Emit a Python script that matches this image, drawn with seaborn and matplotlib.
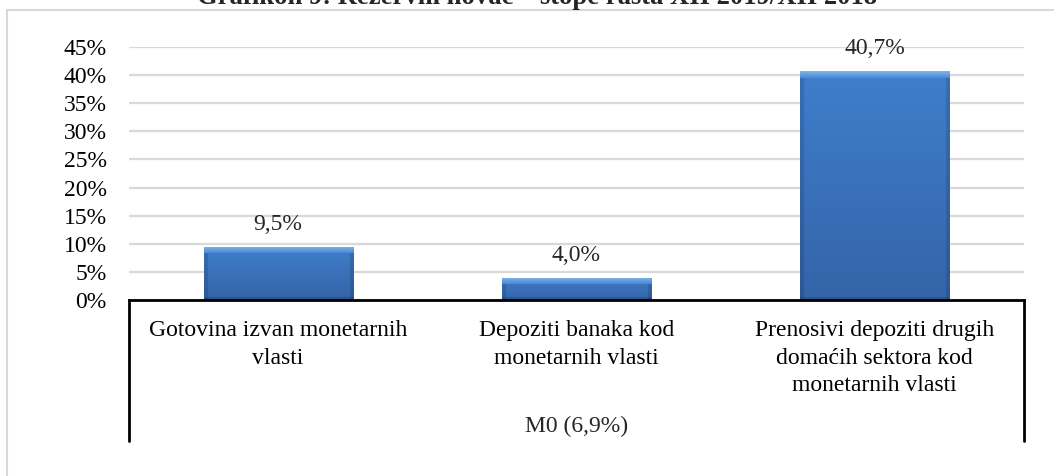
import numpy as np
import pandas as pd
import seaborn as sns
from matplotlib import pyplot as plt
from matplotlib.patches import Rectangle
from matplotlib.colors import to_rgb

# chart data
categories = ['Gotovina izvan monetarnih\nvlasti',
              'Depoziti banaka kod\nmonetarnih vlasti',
              'Prenosivi depoziti drugih\ndomaćih sektora kod\nmonetarnih vlasti']
growth = [9.5, 4.0, 40.7]
value_labels = ['9,5%', '4,0%', '40,7%']
group_label = 'M0 (6,9%)'
y_ticks = [0, 5, 10, 15, 20, 25, 30, 35, 40, 45]
title = 'Grafikon 9: Rezervni novac – stope rasta XII 2019/XII 2018'

sns.set_theme(style='white')
plt.rcParams['font.family'] = ['Liberation Serif', 'DejaVu Serif']

W, H = 1054, 476
FS = 17
fig = plt.figure(figsize=(W / 100, H / 100), dpi=100)
ax = fig.add_axes([129 / W, (H - 300) / H, (1024 - 129) / W, 253 / H])

df = pd.DataFrame({'cat': categories, 'val': growth})
sns.barplot(data=df, x='cat', y='val', color='#3B72BC', width=0.5,
            edgecolor='#2D5A96', linewidth=0.6, saturation=1, ax=ax, zorder=3)

ax.set_xlim(-0.5, len(categories) - 0.5)
ax.set_ylim(0, 45)


def bevel_image(hpx, wpx):
    # body: slight darkening downwards, light top bevel, darker sides/bottom
    top_c, bot_c = np.array(to_rgb('#3F7ECB')), np.array(to_rgb('#3464A8'))
    t = np.linspace(0, 1, hpx)[:, None]
    img = np.repeat((top_c * (1 - t) + bot_c * t)[:, None, :], wpx, axis=1)
    band = min(7, hpx // 3)
    lt, lb = np.array(to_rgb('#7BB3EC')), np.array(to_rgb('#4D8CD4'))
    for i in range(band):
        f = i / max(band - 1, 1)
        img[i, :, :] = lt * (1 - f) + lb * f
    side = 4
    img[band:, :side, :] *= 0.88
    img[band:, -side:, :] *= 0.88
    img[-3:, :, :] *= 0.85
    return np.clip(img, 0, 1)


for p in ax.patches:
    x0, y0 = p.get_x(), p.get_y()
    w, h = p.get_width(), p.get_height()
    (px0, py0), (px1, py1) = ax.transData.transform([(x0, y0), (x0 + w, y0 + h)])
    hpx, wpx = max(int(round(py1 - py0)), 2), max(int(round(px1 - px0)), 2)
    im = ax.imshow(bevel_image(hpx, wpx), aspect='auto', interpolation='nearest',
                   extent=[x0, x0 + w, y0, y0 + h], zorder=3.5)
    im.set_clip_path(p)

ax.set_xlim(-0.5, len(categories) - 0.5)
ax.set_ylim(0, 45)
ax.set_yticks(y_ticks)
ax.set_yticklabels([f'{t}%' for t in y_ticks])
ax.yaxis.grid(True, color='#D9D9D9', linewidth=1.6, zorder=0)
ax.set_axisbelow(True)
ax.set_xlabel('')
ax.set_ylabel('')
ax.tick_params(axis='y', length=0, pad=16, labelsize=FS, colors='#000000')
ax.tick_params(axis='x', length=0, pad=14.5, labelsize=FS, colors='#000000')
for lbl in ax.get_xticklabels():
    lbl.set_linespacing(1.4)

for s in ['top', 'left', 'right']:
    ax.spines[s].set_visible(False)
ax.spines['bottom'].set_color('black')
ax.spines['bottom'].set_linewidth(2)
ax.spines['bottom'].set_zorder(5)

# category box lines
depth = (441 - 300) / 253
for xa in (0, 1):
    ax.plot([xa, xa], [0, -depth], transform=ax.transAxes, color='black',
            lw=2, clip_on=False)

ax.text(0.5, (300 - 426) / 253, group_label, transform=ax.transAxes,
        ha='center', va='center', fontsize=FS)

for p, lab in zip(ax.patches, value_labels):
    ax.annotate(lab, (p.get_x() + p.get_width() / 2, p.get_height()),
                xytext=(0, 16), textcoords='offset points',
                ha='center', va='center', fontsize=FS)

# outer chart border and clipped title
fig.patches.append(Rectangle((7 / W, -0.1), 1.2, (H - 10) / H + 0.1,
                             transform=fig.transFigure, fill=False,
                             edgecolor='#D9D9D9', lw=1.5))
fig.text(537 / W, 1 - 4.5 / H, title, ha='center', va='baseline',
         fontsize=19.2, fontweight='bold')

fig.savefig('out.png', dpi=100)
